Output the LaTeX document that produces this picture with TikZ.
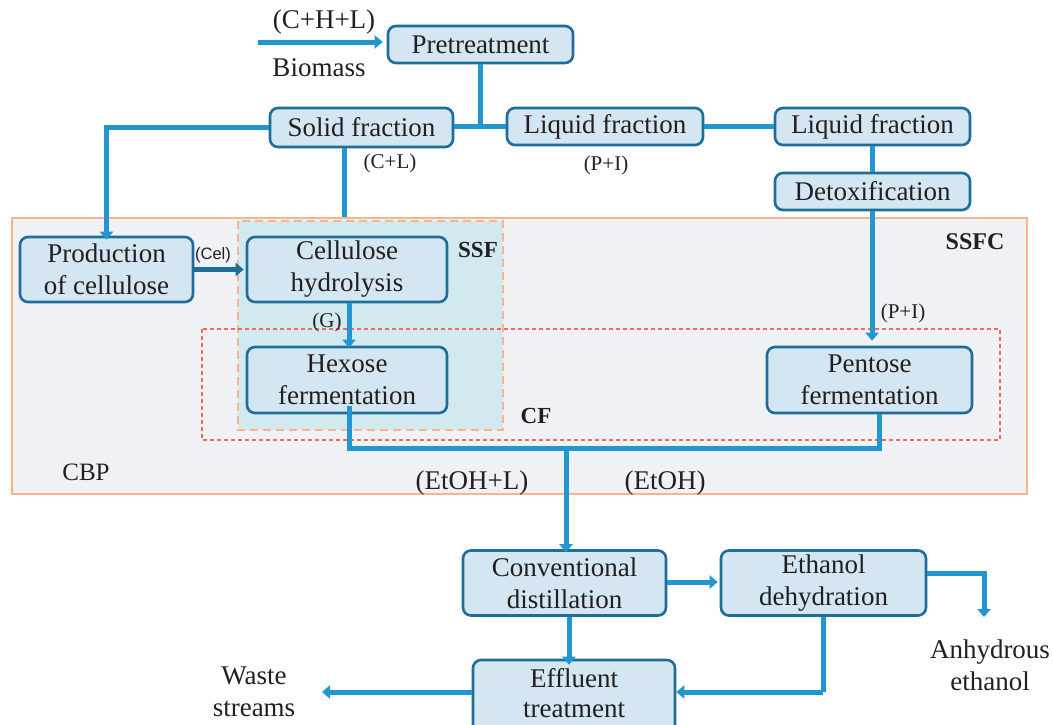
\documentclass[tikz,border=0pt]{standalone}
\usepackage{fontspec}
\setmainfont{Liberation Serif}
\setsansfont{Liberation Sans}
\usetikzlibrary{arrows.meta,positioning}
\definecolor{boxfill}{HTML}{D3E6F1}
\definecolor{boxdraw}{HTML}{1F6E99}
\definecolor{conn}{HTML}{2196CF}
\definecolor{orng}{HTML}{F8B58A}
\definecolor{grayfill}{HTML}{EFF1F4}
\definecolor{ssffill}{HTML}{D2EAEF}
\definecolor{cfred}{HTML}{F06A5A}
\definecolor{txt}{HTML}{231F20}
\tikzset{
  pbox/.style={draw=boxdraw, fill=boxfill, line width=2.6pt, rounded corners=8pt,
    inner sep=0pt, align=center, text=txt, font=\fontsize{27}{32}\selectfont},
  flow/.style={draw=conn, line width=5pt},
  flowarr/.style={flow, -{Triangle[width=13pt,length=8pt]}},
  lbl/.style={text=txt, inner sep=0pt, font=\fontsize{27}{32}\selectfont, align=center},
  slbl/.style={text=txt, inner sep=0pt, font=\fontsize{21}{24}\selectfont},
  blbl/.style={text=txt, inner sep=0pt, font=\fontsize{23}{26}\selectfont\bfseries},
}
\begin{document}
\begin{tikzpicture}[x=1pt,y=-1pt]
\useasboundingbox (0,0) rectangle (1053,724);
\clip (0,0) rectangle (1053,724);
\fill[white] (0,0) rectangle (1053,724);
% regions
\draw[orng, fill=grayfill, line width=2.2pt] (12,218) rectangle (1027,494);
\draw[orng, fill=ssffill, line width=2.4pt, dash pattern=on 8pt off 5pt] (238,221) rectangle (503,430);
\draw[cfred, line width=1.1pt, dash pattern=on 4pt off 3pt] (202,329) rectangle (1000,440);
% boxes
\node[pbox, minimum width=185pt, minimum height=37pt] (pre) at (480.5,44.5) {Pretreatment};
\node[pbox, minimum width=183pt, minimum height=39pt] (solid) at (361.5,127.5) {Solid fraction};
\node[pbox, minimum width=196pt, minimum height=37pt] (liq1) at (605,126.5) {Liquid fraction};
\node[pbox, minimum width=195pt, minimum height=37pt] (liq2) at (872.5,126.5) {Liquid fraction};
\node[pbox, minimum width=195pt, minimum height=37pt] (detox) at (872.5,191.5) {Detoxification};
\node[pbox, minimum width=173pt, minimum height=65pt] (prod) at (106.5,269.5) {Production\\of cellulose};
\node[pbox, minimum width=200pt, minimum height=65pt] (hyd) at (347,269.5) {Cellulose\\hydrolysis};
\node[pbox, minimum width=200pt, minimum height=66pt] (hex) at (347,380) {Hexose\\fermentation};
\node[pbox, minimum width=205pt, minimum height=66pt] (pent) at (869.5,380) {Pentose\\fermentation};
\node[pbox, minimum width=203pt, minimum height=65pt] (conv) at (564.5,583) {Conventional\\distillation};
\node[pbox, minimum width=205pt, minimum height=65pt] (dehy) at (823.5,583) {Ethanol\\dehydration};
\node[pbox, minimum width=202pt, minimum height=75pt] (eff) at (574,697.5) {};
\node[lbl, font=\fontsize{27}{30}\selectfont] (efftxt) at (574,693) {Effluent\\treatment};
% coordinates
\coordinate (bm) at (258,42);
\coordinate (fr) at (0,126);
\coordinate (cl) at (344,217);
\coordinate (hp) at (872,0);
\coordinate (bus) at (566,448);
\coordinate (cd) at (569,0);
\coordinate (anh) at (984,617);
\coordinate (waste) at (322,692);
\coordinate (dcorner) at (823,692);
% connectors
\draw[flowarr, shorten >=4pt] (bm) -- (bm -| pre.west);
\draw[flow] (pre.south) -- (pre.south |- fr);
\draw[flow] (solid.east |- fr) -- (liq1.west |- fr);
\draw[flow] (liq1.east |- fr) -- (liq2.west |- fr);
\draw[flow] (liq2.south -| hp) -- (detox.north -| hp);
\draw[flowarr, shorten >=5pt] (detox.south -| hp) -- (pent.north -| hp);
\draw[flowarr] (solid.west) -| ([yshift=-4pt]prod.north);
\draw[flow] (cl |- solid.south) -- (cl);
\draw[boxdraw, line width=5pt, -{Triangle[width=13pt,length=8pt]}] (prod.east) -- ([xshift=-2pt]hyd.west);
\draw[flowarr] ([xshift=2pt]hyd.south) -- ([xshift=2pt,yshift=-2pt]hex.north);
\draw[flow] ([xshift=2pt,yshift=8pt]hex.south) |- (bus) -| ([xshift=10pt]pent.south);
\draw[flowarr] (bus) -- ([yshift=-3pt]bus |- conv.north);
\draw[flowarr] (conv.east |- 0,582) -- ([xshift=-2pt]dehy.west |- 0,582);
\draw[flowarr] (dehy.east |- 0,573) -| (anh);
\draw[flowarr] (conv.south -| cd) -- ([yshift=-6pt]eff.north -| cd);
\draw[flow] (dehy.south -| dcorner) -- (dcorner);
\draw[flowarr] (dcorner) -- (eff.east |- dcorner);
\draw[flowarr] (eff.west |- waste) -- (waste);
% labels
\node[lbl] (lchl) at (324,22) {(C+H+L)};
\node[lbl] (lbio) at (319,68) {Biomass};
\node[slbl] (lcl) at (390,163) {(C+L)};
\node[slbl] (lpi1) at (606,165) {(P+I)};
\node[text=txt, inner sep=0pt, font=\sffamily\fontsize{16.5}{18}\selectfont] (lcel) at (213,255) {(Cel)};
\node[slbl] (lg) at (327,322) {(G)};
\node[slbl] (lpi2) at (903,313) {(P+I)};
\node[blbl] (lssf) at (478,250) {SSF};
\node[blbl, font=\fontsize{24}{26}\selectfont\bfseries] (lssfc) at (975,242) {SSFC};
\node[blbl] (lcf) at (536,416) {CF};
\node[lbl, font=\fontsize{25}{28}\selectfont] (lcbp) at (86,472) {CBP};
\node[lbl] (letl) at (472,483) {(EtOH+L)};
\node[lbl] (let) at (665,483) {(EtOH)};
\node[lbl] (lanh) at (990,665) {Anhydrous\\ethanol};
\node[lbl] (lwaste) at (254,692) {Waste\\streams};
\end{tikzpicture}
\end{document}
